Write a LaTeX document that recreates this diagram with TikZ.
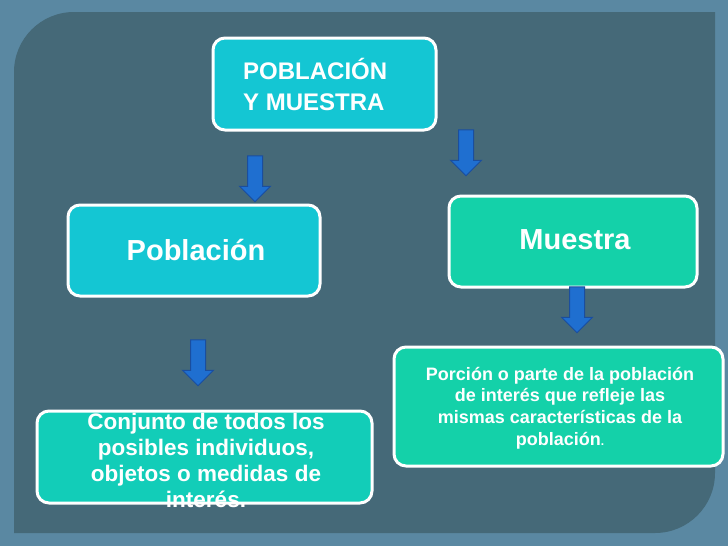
\documentclass[tikz,border=0pt]{standalone}
\usepackage{fontspec}
\setmainfont{Liberation Sans}
\usetikzlibrary{shapes.arrows}
\definecolor{outerbg}{HTML}{5A88A2}
\definecolor{panel}{HTML}{456978}
\definecolor{cyanbox}{HTML}{14C6D3}
\definecolor{greenbox}{HTML}{14D1A9}
\definecolor{tealbox}{HTML}{12CDB8}
\definecolor{arrowblue}{HTML}{1F6FD0}
\definecolor{arrowedge}{HTML}{1A4E9E}
\tikzset{
  x=1pt,y=-1pt,
  box/.style={draw=white,line width=3pt,rounded corners=12pt,inner sep=0pt},
  txt/.style={text=white,font=\bfseries,align=center,inner sep=0pt},
  downarrow/.style={single arrow,draw=arrowedge,fill=arrowblue,line width=1pt,shape border rotate=270,minimum width=30pt,single arrow head extend=8pt,minimum height=46pt,inner sep=7pt}
}
\begin{document}
\begin{tikzpicture}
\useasboundingbox (0,0) rectangle (728,546);
\fill[outerbg] (0,0) rectangle (728,546);
\fill[panel] (14,533) -- (14,72) arc[start angle=180,end angle=270,radius=60] -- (715,12) -- (715,473) arc[start angle=0,end angle=90,radius=60] -- cycle;
% boxes
\draw[box,fill=cyanbox] (213,38) rectangle (436,130);
\node[txt,align=left,anchor=west,font=\bfseries\fontsize{24}{31}\selectfont] (t1) at (243,84) {POBLACIÓN\\Y MUESTRA};
\draw[box,fill=cyanbox] (68,205) rectangle (320,296);
\node[txt,font=\bfseries\fontsize{29}{32}\selectfont] (t2) at (196,250) {Población};
\draw[box,fill=greenbox] (449,196) rectangle (697,287);
\node[txt,font=\bfseries\fontsize{29}{32}\selectfont] (t3) at (575,240) {Muestra};
\draw[box,fill=tealbox] (37,411) rectangle (372,503);
\node[txt,font=\bfseries\fontsize{22.5}{26}\selectfont] (t4) at (206,460) {Conjunto de todos los\\posibles individuos,\\objetos o medidas de\\interés.};
\draw[box,fill=greenbox] (394,347) rectangle (723,466);
\node[txt,font=\bfseries\fontsize{18}{21.7}\selectfont] (t5) at (560,408) {Porción o parte de la población\\de interés que refleje las\\mismas características de la\\población{\fontsize{12}{12}\selectfont.}};
% arrows
\node[downarrow] (a1) at (255,175) {};
\node[downarrow] (a2) at (466,149) {};
\node[downarrow] (a3) at (577,306) {};
\node[downarrow] (a4) at (198,359) {};
\end{tikzpicture}
\end{document}
